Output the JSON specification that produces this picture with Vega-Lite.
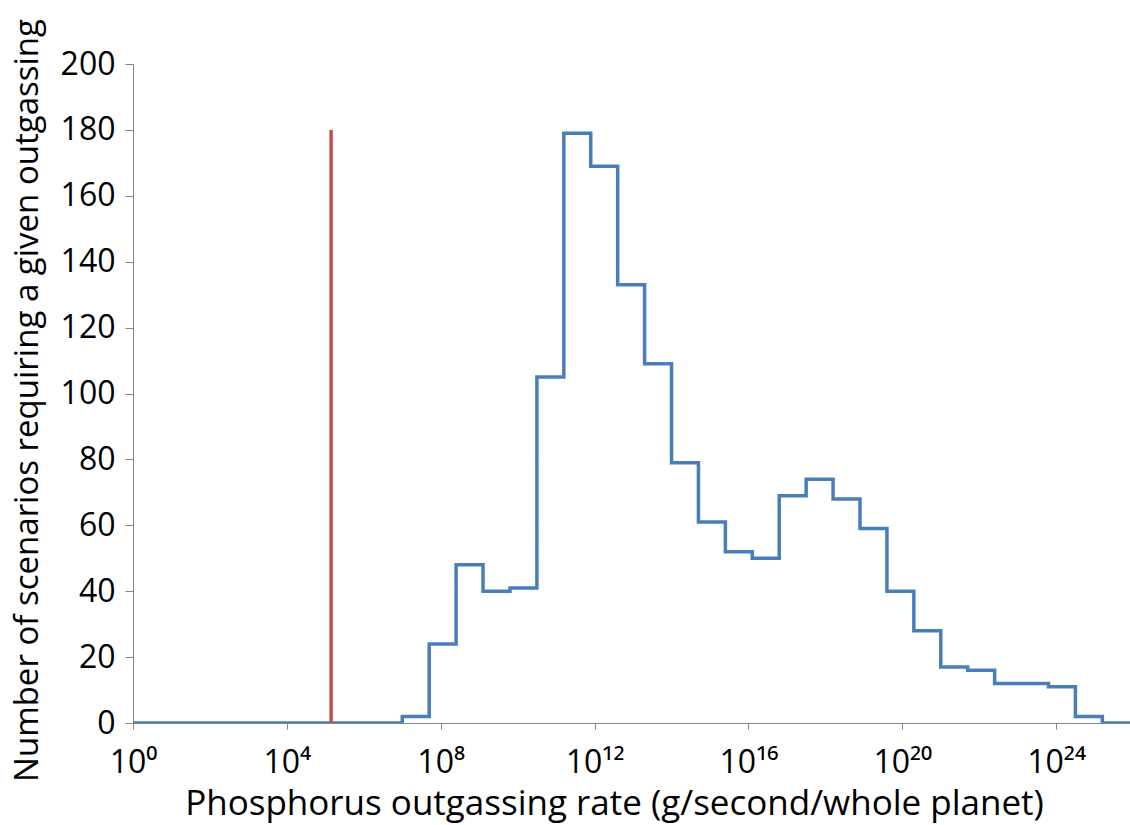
{
  "$schema": "https://vega.github.io/schema/vega-lite/v6.json",
  "width": 997,
  "height": 659,
  "autosize": {"type": "none"},
  "padding": {"left": 133, "top": 64, "right": 0, "bottom": 102},
  "background": "white",
  "config": {
    "view": {"stroke": null},
    "font": "Open Sans",
    "axis": {"grid": false, "domainColor": "#868686", "tickColor": "#868686", "labelColor": "#000000", "titleColor": "#000000", "titleFontWeight": "normal", "labelFont": "Open Sans", "titleFont": "Open Sans"}
  },
  "datasets": {
    "hist": [
      {"rate": 1, "count": 0},
      {"rate": 1e7, "count": 2},
      {"rate": 5.012e7, "count": 24},
      {"rate": 2.512e8, "count": 48},
      {"rate": 1.259e9, "count": 40},
      {"rate": 6.31e9, "count": 41},
      {"rate": 3.162e10, "count": 105},
      {"rate": 1.585e11, "count": 179},
      {"rate": 7.943e11, "count": 169},
      {"rate": 3.981e12, "count": 133},
      {"rate": 1.995e13, "count": 109},
      {"rate": 1e14, "count": 79},
      {"rate": 5.012e14, "count": 61},
      {"rate": 2.512e15, "count": 52},
      {"rate": 1.259e16, "count": 50},
      {"rate": 6.31e16, "count": 69},
      {"rate": 3.162e17, "count": 74},
      {"rate": 1.585e18, "count": 68},
      {"rate": 7.943e18, "count": 59},
      {"rate": 3.981e19, "count": 40},
      {"rate": 1.995e20, "count": 28},
      {"rate": 1e21, "count": 17},
      {"rate": 5.012e21, "count": 16},
      {"rate": 2.512e22, "count": 12},
      {"rate": 1.259e23, "count": 12},
      {"rate": 6.31e23, "count": 11},
      {"rate": 3.162e24, "count": 2},
      {"rate": 1.585e25, "count": 0},
      {"rate": 8.3e25, "count": 0}
    ],
    "marker": [
      {"rate": 141254, "bottom": 0, "top": 180}
    ]
  },
  "layer": [
    {
      "data": {"name": "hist"},
      "mark": {"type": "line", "interpolate": "step-after", "color": "#4A7EBB", "strokeWidth": 3.5, "clip": true},
      "encoding": {
        "x": {
          "field": "rate", "type": "quantitative",
          "scale": {"type": "log", "domain": [1, 8.3e25], "nice": false},
          "axis": {
            "title": "Phosphorus outgassing rate (g/second/whole planet)",
            "titleFontSize": 35, "titlePadding": 8, "titleX": 481,
            "values": [1, 1e4, 1e8, 1e12, 1e16, 1e20, 1e24],
            "labelExpr": "datum.value < 10 ? '10⁰' : datum.value < 1e5 ? '10⁴' : datum.value < 1e9 ? '10⁸' : datum.value < 1e13 ? '10¹²' : datum.value < 1e17 ? '10¹⁶' : datum.value < 1e21 ? '10²⁰' : '10²⁴'",
            "labelFontSize": 32, "labelPadding": 18, "tickSize": 6, "labelFlush": false, "labelOverlap": false
          }
        },
        "y": {
          "field": "count", "type": "quantitative",
          "scale": {"domain": [0, 200], "nice": false},
          "axis": {
            "title": "Number of scenarios requiring a given outgassing",
            "titleFontSize": 33, "titlePadding": 16, "titleY": 336,
            "values": [0, 20, 40, 60, 80, 100, 120, 140, 160, 180, 200],
            "labelFontSize": 32, "tickSize": 8, "labelPadding": 10
          }
        }
      }
    },
    {
      "data": {"name": "marker"},
      "mark": {"type": "rule", "color": "#C0504D", "strokeWidth": 3.5},
      "encoding": {
        "x": {"field": "rate", "type": "quantitative"},
        "y": {"field": "bottom", "type": "quantitative"},
        "y2": {"field": "top"}
      }
    }
  ]
}
